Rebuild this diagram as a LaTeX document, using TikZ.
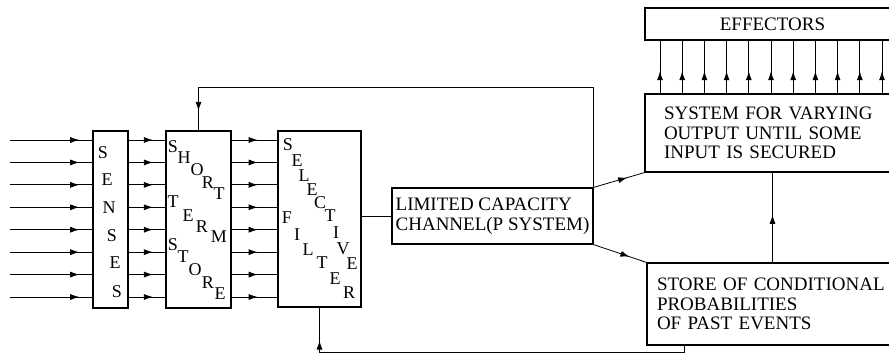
\documentclass[tikz,border=0pt]{standalone}
\usepackage{fontspec}
\setmainfont{Liberation Serif}
\usetikzlibrary{arrows.meta,decorations.markings}

\tikzset{
  block/.style={draw,line width=1.2pt,inner sep=0pt},
  wire/.style={line width=0.8pt},
  midarrow/.style={wire,postaction={decorate},
    decoration={markings,mark=at position #1 with {\arrow{Latex[length=9pt,width=6pt]}}}},
  letter/.style={font=\fontsize{18}{18}\selectfont,inner sep=0pt},
  boxtext/.style={font=\fontsize{19}{19.5}\selectfont,align=left}
}

\begin{document}
\begin{tikzpicture}[x=1pt,y=-1pt]
    \useasboundingbox (0,0) rectangle (889,363);
    \clip (0,0) rectangle (889,363);
    % Boxes
    \node[block,minimum width=35pt,minimum height=177pt] (senses) at (110.5,219.5) {};
    \node[block,minimum width=65pt,minimum height=177pt] (sts) at (198.5,219.5) {};
    \node[block,minimum width=83pt,minimum height=176pt] (filter) at (319.5,219) {};
    \node[block,boxtext,minimum width=201pt,minimum height=56pt] (chan) at (492.5,216)
        {LIMITED CAPACITY\\CHANNEL(P SYSTEM)};
    \node[block,boxtext,minimum width=255pt,minimum height=32pt] (effectors) at (772.5,24) {EFFECTORS};
    \node[block,boxtext,minimum height=78pt,text width=217pt,inner xsep=19pt] (system) at (772.5,133)
        {SYSTEM FOR VARYING\\OUTPUT UNTIL SOME\\INPUT IS SECURED};
    \node[block,boxtext,minimum height=82pt,text width=233pt,inner xsep=10pt] (store) at (773.5,304)
        {STORE OF CONDITIONAL\\PROBABILITIES\\OF PAST EVENTS};
    % Letters
    \foreach \c/\x/\y [count=\i] in {S/103/153,E/107/180,N/109/208,S/112/236,E/115/263,S/117/292}
        \node[letter] (sen\i) at (\x,\y) {\c};
    \foreach \c/\x/\y [count=\i] in {S/173/147,H/184/158,O/197/170,R/208/183,T/219/194,
        T/173/202,E/188/216,R/202/227,M/219/237,
        S/173/245,T/183/257,O/195/270,R/208/283,E/220/294}
        \node[letter] (sts\i) at (\x,\y) {\c};
    \foreach \c/\x/\y [count=\i] in {S/288/145,E/297/161,L/304/176,E/312/190,C/320/203,
        T/330/216,I/336/233,V/343/249,E/352/264,R/349/293,
        F/287/218,I/297/235,L/308/250,T/322/263,E/335/279}
        \node[letter] (fil\i) at (\x,\y) {\c};
    % Inputs
    \foreach \i in {0,...,7} {
        \pgfmathsetmacro\yy{140+22.43*\i}
        \coordinate (in\i) at (10,\yy);
        \draw[midarrow=0.84] (in\i) -- (senses.west |- in\i);
        \draw[midarrow=0.66] (senses.east |- in\i) -- (sts.west |- in\i);
        \draw[midarrow=0.57] (sts.east |- in\i) -- (filter.west |- in\i);
    }
    % Outputs to effectors
    \foreach \i in {0,...,10} {
        \pgfmathsetmacro\xx{660+22.2*\i}
        \coordinate (ef\i) at (\xx,0);
        \draw[midarrow=0.42] (system.north -| ef\i) -- (effectors.south -| ef\i);
    }
    % Channel links
    \draw[wire] (chan.west -| filter.east) -- (chan.west);
    \draw[midarrow=0.66] (chan.north east) -- (system.south west);
    \draw[midarrow=0.68] (chan.south east) -- (store.north west);
    \draw[midarrow=0.53] (system.south |- store.north) -- (system.south);
    % Feedback loops
    \coordinate (fbtop) at (sts.north |- 0,87);
    \draw[wire] (chan.north east) |- (fbtop);
    \draw[midarrow=0.55] (fbtop) -- (sts.north);
    \coordinate (fbbot) at ([xshift=38pt]store.south west);
    \draw[midarrow=-33pt] (fbbot) -- ++(0,7) -| (filter.south);
\end{tikzpicture}
\end{document}
